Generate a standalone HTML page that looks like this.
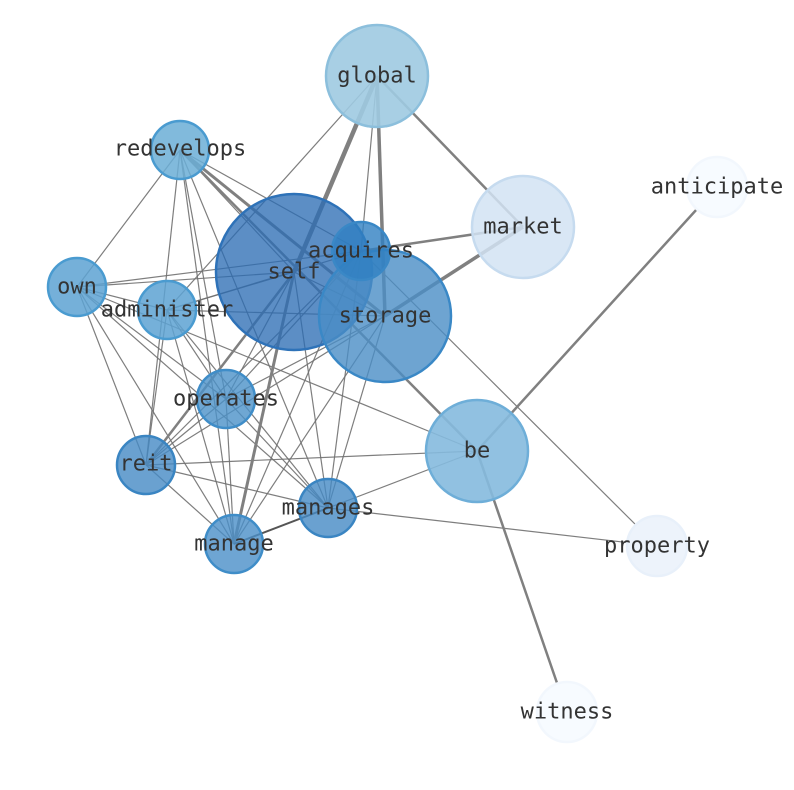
<!DOCTYPE html>
<html><head><meta charset="utf-8"><style>
html,body{margin:0;padding:0;background:#fff;}
svg{display:block;}
text{font-family:"DejaVu Sans Mono","Liberation Mono",monospace;font-size:22px;fill:#333;text-anchor:middle;dominant-baseline:central;}
</style></head><body>
<svg width="794" height="790" viewBox="0 0 794 790" xmlns="http://www.w3.org/2000/svg">
<g stroke="#707070" stroke-opacity="0.9" stroke-width="1.2" fill="none">
<line x1="377" y1="76" x2="167" y2="310"/>
<line x1="377" y1="76" x2="361" y2="251"/>
<line x1="180" y1="150" x2="77" y2="287"/>
<line x1="180" y1="150" x2="146" y2="465"/>
<line x1="180" y1="150" x2="226" y2="399"/>
<line x1="180" y1="150" x2="328" y2="508"/>
<line x1="180" y1="150" x2="234" y2="544"/>
<line x1="180" y1="150" x2="361" y2="251"/>
<line x1="180" y1="150" x2="294" y2="272"/>
<line x1="361" y1="251" x2="657" y2="546"/>
<line x1="77" y1="287" x2="294" y2="272"/>
<line x1="77" y1="287" x2="361" y2="251"/>
<line x1="77" y1="287" x2="167" y2="310"/>
<line x1="77" y1="287" x2="146" y2="465"/>
<line x1="77" y1="287" x2="234" y2="544"/>
<line x1="77" y1="287" x2="226" y2="399"/>
<line x1="77" y1="287" x2="328" y2="508"/>
<line x1="77" y1="287" x2="477" y2="451"/>
<line x1="167" y1="310" x2="385" y2="316"/>
<line x1="167" y1="310" x2="361" y2="251"/>
<line x1="167" y1="310" x2="294" y2="272"/>
<line x1="167" y1="310" x2="146" y2="465"/>
<line x1="167" y1="310" x2="234" y2="544"/>
<line x1="167" y1="310" x2="226" y2="399"/>
<line x1="167" y1="310" x2="328" y2="508"/>
<line x1="294" y1="272" x2="226" y2="399"/>
<line x1="294" y1="272" x2="328" y2="508"/>
<line x1="294" y1="272" x2="385" y2="316"/>
<line x1="385" y1="316" x2="226" y2="399"/>
<line x1="385" y1="316" x2="234" y2="544"/>
<line x1="385" y1="316" x2="328" y2="508"/>
<line x1="385" y1="316" x2="146" y2="465"/>
<line x1="361" y1="251" x2="146" y2="465"/>
<line x1="361" y1="251" x2="234" y2="544"/>
<line x1="361" y1="251" x2="328" y2="508"/>
<line x1="361" y1="251" x2="226" y2="399"/>
<line x1="477" y1="451" x2="146" y2="465"/>
<line x1="477" y1="451" x2="328" y2="508"/>
<line x1="226" y1="399" x2="234" y2="544"/>
<line x1="226" y1="399" x2="328" y2="508"/>
<line x1="226" y1="399" x2="146" y2="465"/>
<line x1="328" y1="508" x2="657" y2="546"/>
<line x1="146" y1="465" x2="328" y2="508"/>
<line x1="146" y1="465" x2="234" y2="544"/>
</g>
<g stroke="#808080" fill="none">
<line x1="377" y1="76" x2="294" y2="272" stroke-width="4.5"/>
<line x1="377" y1="76" x2="385" y2="316" stroke-width="3.5"/>
<line x1="377" y1="76" x2="523" y2="227" stroke-width="2.5"/>
<line x1="523" y1="227" x2="385" y2="316" stroke-width="3.5"/>
<line x1="523" y1="227" x2="361" y2="251" stroke-width="2.5"/>
<line x1="180" y1="150" x2="385" y2="316" stroke-width="3"/>
<line x1="180" y1="150" x2="477" y2="451" stroke-width="2.5"/>
<line x1="717" y1="187" x2="477" y2="451" stroke-width="2.5"/>
<line x1="477" y1="451" x2="567" y2="712" stroke-width="2.5"/>
<line x1="294" y1="272" x2="146" y2="465" stroke-width="2.5"/>
<line x1="294" y1="272" x2="234" y2="544" stroke-width="3"/>
<line x1="328" y1="508" x2="234" y2="544" stroke-width="2" stroke="#555"/>
</g>
<g stroke-width="2.5">
<circle cx="377" cy="76" r="51" fill="#9ecae1" stroke="#8cbfdc" fill-opacity="0.9"/>
<circle cx="717" cy="187" r="30" fill="#f7fbff" stroke="#f2f7fd"/>
<circle cx="523" cy="227" r="51" fill="#d2e3f3" stroke="#c6dbef" fill-opacity="0.85"/>
<circle cx="180" cy="150" r="29" fill="#6baed6" stroke="#4a9bd0" fill-opacity="0.85"/>
<circle cx="294" cy="272" r="78" fill="#2b6cb4" stroke="#2e72b8" fill-opacity="0.77"/>
<circle cx="385" cy="316" r="66" fill="#4a8dc6" stroke="#3a88c6" fill-opacity="0.8"/>
<circle cx="361" cy="251" r="29" fill="#3080c2" stroke="#3a88c6" fill-opacity="0.8"/>
<circle cx="77" cy="287" r="29" fill="#5da2d2" stroke="#4a9bd0" fill-opacity="0.85"/>
<circle cx="167" cy="310" r="29" fill="#5da2d2" stroke="#4a9bd0" fill-opacity="0.85"/>
<circle cx="226" cy="399" r="29" fill="#4b91c8" stroke="#3f8dc8" fill-opacity="0.8"/>
<circle cx="146" cy="465" r="29" fill="#4589c4" stroke="#3a85c2" fill-opacity="0.8"/>
<circle cx="477" cy="451" r="51" fill="#85bade" stroke="#6eaed8" fill-opacity="0.9"/>
<circle cx="328" cy="508" r="29" fill="#4589c4" stroke="#3a85c2" fill-opacity="0.8"/>
<circle cx="234" cy="544" r="29" fill="#4a8fc8" stroke="#3f8dc8" fill-opacity="0.8"/>
<circle cx="657" cy="546" r="30" fill="#edf3fb" stroke="#e8f0fa"/>
<circle cx="567" cy="712" r="30" fill="#f7fbff" stroke="#f2f7fd"/>
</g>
<text x="377" y="76">global</text>
<text x="717" y="187">anticipate</text>
<text x="523" y="227">market</text>
<text x="180" y="149">redevelops</text>
<text x="294" y="272">self</text>
<text x="361" y="251">acquires</text>
<text x="385" y="316">storage</text>
<text x="77" y="287">own</text>
<text x="167" y="310">administer</text>
<text x="226" y="399">operates</text>
<text x="146" y="464">reit</text>
<text x="477" y="451">be</text>
<text x="328" y="508">manages</text>
<text x="234" y="544">manage</text>
<text x="657" y="546">property</text>
<text x="567" y="712">witness</text>
</svg>
</body></html>
